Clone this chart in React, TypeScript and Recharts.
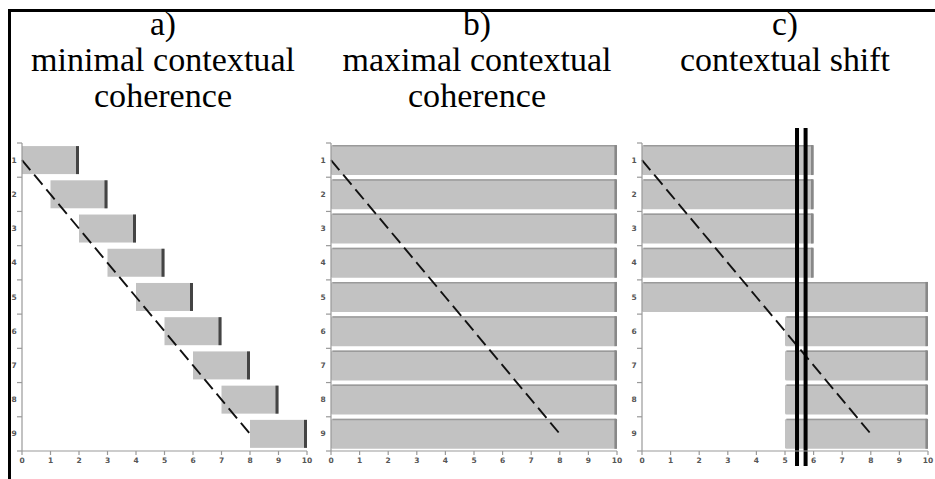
import React from 'react';
import { ComposedChart, Bar, Line, XAxis, YAxis, ReferenceLine } from 'recharts';

const rows = ['1', '2', '3', '4', '5', '6', '7', '8', '9'];
const aStart = [0, 1, 2, 3, 4, 5, 6, 7, 8];
const aEnd = [2, 3, 4, 5, 6, 7, 8, 9, 10];
const bStart = [0, 0, 0, 0, 0, 0, 0, 0, 0];
const bEnd = [10, 10, 10, 10, 10, 10, 10, 10, 10];
const cStart = [0, 0, 0, 0, 0, 5, 5, 5, 5];
const cEnd = [6, 6, 6, 6, 10, 10, 10, 10, 10];
const diagonal = [0, 1, 2, 3, 4, 5, 6, 7, 8];
const shiftLines = [5.42, 5.72];
const xTicks = [0, 1, 2, 3, 4, 5, 6, 7, 8, 9, 10];

const titlesA = ['a)', 'minimal contextual', 'coherence'];
const titlesB = ['b)', 'maximal contextual', 'coherence'];
const titlesC = ['c)', 'contextual shift'];

// rendered widths of each title line (px), so the text keeps its width whatever font is found
const titleWidths: Record<string, number> = {
  'a)': 26,
  'b)': 28,
  'c)': 26,
  'minimal contextual': 264,
  'maximal contextual': 269,
  'contextual shift': 210,
  coherence: 138,
};

const PLOT_TOP = 143;
const PLOT_H = 308;
const Y_W = 16;
const M = { top: 20, right: 8, bottom: 10, left: 0 };
const X_H = 20;

const build = (s: number[], e: number[]) =>
  rows.map((r, i) => ({ row: r, range: [s[i], e[i]], diag: diagonal[i] }));

const makeBarShape = (edgeColor: string, topColor: string, radius: number, edgeW: number) => (p: any) => {
  const { x, y, width, height } = p;
  if (width == null || height == null) return null;
  return (
    <g>
      <rect x={x} y={y} width={width} height={height} fill="#c2c2c2" rx={radius} ry={radius} />
      {topColor !== 'none' && (
        <line x1={x + radius} x2={x + width - 1} y1={y + 0.75} y2={y + 0.75} stroke={topColor} strokeWidth={1.5} />
      )}
      <line x1={x + width - edgeW / 2} x2={x + width - edgeW / 2} y1={y} y2={y + height} stroke={edgeColor} strokeWidth={edgeW} />
    </g>
  );
};

const YTick = (p: any) => {
  const { x, y, payload, index } = p;
  const band = PLOT_H / rows.length;
  return (
    <g>
      <text x={x - 8} y={y} dy={2.5} textAnchor="middle" fontSize={7.5} fontWeight="bold" fill="#555" fontFamily="DejaVu Sans">
        {payload.value}
      </text>
      <line x1={x - 5} x2={x} y1={y - band / 2} y2={y - band / 2} stroke="#999" strokeWidth={1.2} />
      {index === rows.length - 1 && (
        <line x1={x - 5} x2={x} y1={y + band / 2} y2={y + band / 2} stroke="#999" strokeWidth={1.2} />
      )}
    </g>
  );
};

const XTick = (p: any) => {
  const { x, y, payload } = p;
  return (
    <text x={x} y={y} dy={6} textAnchor="middle" fontSize={7.5} fontWeight="bold" fill="#555" fontFamily="DejaVu Sans">
      {payload.value}
    </text>
  );
};

const ThickLine = (p: any) => {
  const top = Math.min(p.y1, p.y2) - 15;
  const bot = Math.max(p.y1, p.y2) + 15;
  return <line x1={p.x1} x2={p.x2} y1={top} y2={bot} stroke="#000" strokeWidth={4} />;
};

type PanelProps = {
  plotLeft: number;
  plotW: number;
  data: any[];
  gap: string;
  edge: string;
  topEdge: string;
  radius: number;
  edgeW: number;
  lines?: number[];
};

const Panel = ({ plotLeft, plotW, data, gap, edge, topEdge, radius, edgeW, lines }: PanelProps) => {
  const width = Y_W + plotW + M.right;
  const height = M.top + PLOT_H + X_H + M.bottom;
  return (
    <div style={{ position: 'absolute', left: plotLeft - Y_W, top: PLOT_TOP - M.top }}>
      <ComposedChart width={width} height={height} data={data} layout="vertical" margin={M} barCategoryGap={gap}>
        <XAxis
          type="number"
          domain={[0, 10]}
          ticks={xTicks}
          interval={0}
          height={X_H}
          stroke="#999"
          strokeWidth={1.2}
          tickSize={4}
          tickMargin={2}
          tick={<XTick />}
        />
        <YAxis
          type="category"
          dataKey="row"
          width={Y_W}
          stroke="#999"
          strokeWidth={1.2}
          tickLine={false}
          tickSize={0}
          tickMargin={0}
          interval={0}
          tick={<YTick />}
        />
        <Bar dataKey="range" isAnimationActive={false} shape={makeBarShape(edge, topEdge, radius, edgeW)} />
        <Line
          dataKey="diag"
          type="linear"
          stroke="#111"
          strokeWidth={1.9}
          strokeDasharray="13 6"
          dot={false}
          activeDot={false}
          isAnimationActive={false}
        />
        {(lines || []).map((v) => (
          <ReferenceLine key={v} x={v} shape={<ThickLine />} />
        ))}
      </ComposedChart>
    </div>
  );
};

const BASELINES = [35, 71, 107];

const TitleGroup = ({ cx, lines }: { cx: number; lines: string[] }) => (
  <g>
    {lines.map((t, i) => (
      <text
        key={t}
        x={cx}
        y={BASELINES[i]}
        textAnchor="middle"
        fontSize={34}
        fontFamily='"Liberation Serif", "Times New Roman", Tinos, serif'
        fill="#000"
        textLength={titleWidths[t]}
        lengthAdjust="spacingAndGlyphs"
      >
        {t}
      </text>
    ))}
  </g>
);

export default function App() {
  return (
    <div style={{ position: 'absolute', left: 0, top: 0, width: 935, height: 479, overflow: 'hidden', background: '#fff' }}>
      <div
        style={{
          position: 'absolute',
          left: 8,
          top: 9,
          width: 1000,
          height: 600,
          borderLeft: '3px solid #000',
          borderTop: '3px solid #000',
        }}
      />
      <svg width={935} height={125} style={{ position: 'absolute', left: 0, top: 0 }}>
        <TitleGroup cx={163} lines={titlesA} />
        <TitleGroup cx={477} lines={titlesB} />
        <TitleGroup cx={785} lines={titlesC} />
      </svg>
      <Panel plotLeft={22} plotW={285} data={build(aStart, aEnd)} gap="9%" edge="#444" topEdge="none" radius={0} edgeW={3} />
      <Panel plotLeft={331} plotW={286} data={build(bStart, bEnd)} gap="6%" edge="#888" topEdge="#9a9a9a" radius={1.5} edgeW={2.6} />
      <Panel
        plotLeft={642}
        plotW={286}
        data={build(cStart, cEnd)}
        gap="6%"
        edge="#888"
        topEdge="#9a9a9a"
        radius={1.5}
        edgeW={2.6}
        lines={shiftLines}
      />
    </div>
  );
}
